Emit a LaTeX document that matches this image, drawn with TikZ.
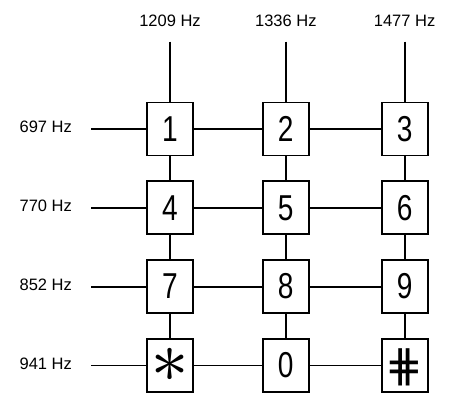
\documentclass[tikz,border=0pt]{standalone}
\usepackage{fontspec}
\setmainfont{Liberation Sans}
\newfontfamily\keyfont[FakeStretch=0.78]{Liberation Sans}
\newfontfamily\starfont{Latin Modern Math}
\newfontfamily\hashfont{DejaVu Sans}
\usetikzlibrary{positioning}

\begin{document}
\begin{tikzpicture}[
  x=1pt, y=-1pt,
  key/.style={draw, line width=1.8pt, minimum width=46pt, minimum height=53pt,
    inner sep=0pt, font=\keyfont\fontsize{36}{36}\selectfont},
  freq/.style={font=\fontsize{16.5}{18}\selectfont, inner sep=0pt},
  wire/.style={line width=1.8pt}
]
  \useasboundingbox (0,0) rectangle (449,394);

  % keys
  \node[key] (k1) at (170,129) {1};
  \node[key, right=68pt of k1] (k2) {2};
  \node[key, right=71pt of k2] (k3) {3};
  \node[key, below=24pt of k1] (k4) {4};
  \node[key, below=24pt of k2] (k5) {5};
  \node[key, below=24pt of k3] (k6) {6};
  \node[key, below=24pt of k4] (k7) {7};
  \node[key, below=24pt of k5] (k8) {8};
  \node[key, below=24pt of k6] (k9) {9};
  \node[key, below=24pt of k7] (kstar) {\smash{\starfont\fontsize{74}{74}\selectfont\raisebox{-0.23em}{∗}}};
  \node[key, below=24pt of k8] (k0) {0};
  \node[key, below=24pt of k9] (khash) {\smash{\hashfont\fontsize{45}{45}\selectfont\raisebox{-0.35em}{⋕}}};

  % column tones
  \coordinate[above=60pt of k1.north] (c1);
  \coordinate[above=60pt of k2.north] (c2);
  \coordinate[above=60pt of k3.north] (c3);
  \node[freq, above=15pt of c1] (f1209) {1209 Hz};
  \node[freq, above=15pt of c2] (f1336) {1336 Hz};
  \node[freq, above=15pt of c3] (f1477) {1477 Hz};

  % row tones
  \coordinate[left=55pt of k1.west] (r1);
  \coordinate[left=55pt of k4.west] (r2);
  \coordinate[left=55pt of k7.west] (r3);
  \coordinate[left=55pt of kstar.west] (r4);
  \node[freq, left=19pt of r1, yshift=2pt] (f697) {697 Hz};
  \node[freq, left=19pt of r2, yshift=2pt] (f770) {770 Hz};
  \node[freq, left=19pt of r3, yshift=2pt] (f852) {852 Hz};
  \node[freq, left=19pt of r4, yshift=2pt] (f941) {941 Hz};

  \draw[wire] (c1) -- (k1) -- (k4) -- (k7) -- (kstar);
  \draw[wire] (c2) -- (k2) -- (k5) -- (k8) -- (k0);
  \draw[wire] (c3) -- (k3) -- (k6) -- (k9) -- (khash);
  \draw[wire] (r1) -- (k1) -- (k2) -- (k3);
  \draw[wire] (r2) -- (k4) -- (k5) -- (k6);
  \draw[wire] (r3) -- (k7) -- (k8) -- (k9);
  \draw[wire] (r4) -- (kstar) -- (k0) -- (khash);
\end{tikzpicture}
\end{document}
